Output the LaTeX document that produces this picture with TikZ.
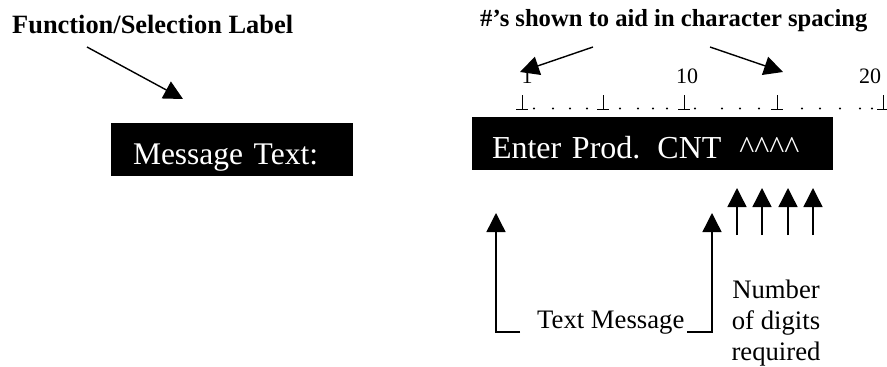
\documentclass[tikz,border=0pt]{standalone}
\usepackage{fontspec}
\setmainfont{Liberation Serif}
\usetikzlibrary{arrows.meta}

\tikzset{
  pointer/.style={line width=1.4pt, -{Triangle[length=19pt,width=19pt]}},
  screen/.style={fill=black, text=white, inner ysep=0pt, outer sep=0pt, text height=41pt, text depth=12pt, align=left, font=\fontsize{31.5}{36}\selectfont},
  heading/.style={inner sep=0pt, font=\bfseries\fontsize{25.5}{30}\selectfont},
  caption/.style={inner sep=0pt, font=\fontsize{26.7}{31}\selectfont},
  colnum/.style={inner sep=0pt, font=\fontsize{22}{26}\selectfont},
}

\begin{document}
\begin{tikzpicture}[x=1pt, y=-1pt]
\useasboundingbox (0,0) rectangle (887,367);

% titles
\node[heading, anchor=base west, font=\bfseries\fontsize{26.4}{30}\selectfont] (lbl) at (12,33) {Function/Selection Label};
\node[heading, anchor=base west, font=\bfseries\fontsize{24.6}{30}\selectfont] (hint) at (480,26) {\#'s shown to aid in character spacing};

% the two display lines
\node[screen, anchor=base west, inner xsep=22pt, text width=198pt] (msgbox) at (111,164) {Message Text:};
\node[screen, anchor=base west, inner xsep=20pt, text width=321pt, font=\fontsize{32}{36}\selectfont] (prodbox) at (472,158)
  {Enter Prod.\hspace{17pt}CNT\hspace{18pt}\textasciicircum\textasciicircum\textasciicircum\textasciicircum};

% column numbers and ruler
\node[colnum, anchor=base] (c1) at (527,83) {1};
\node[colnum, anchor=base] (c10) at (687,83) {10};
\node[colnum, anchor=base] (c20) at (870,83) {20};
\foreach \x in {522,603,684,777,883}
  \draw[line width=0.8pt] (\x,95) -- (\x,109) (\x-6,109) -- (\x+6,109);
\foreach \x in {534,553,570,587,620,638,653,667,695,722,740,759,802,820,840,860,872}
  \fill (\x,108.5) circle (1.1pt);

% pointers from the titles
\coordinate (lblfoot) at (87,47);
\coordinate (lbltip) at (183,99);
\coordinate (hintL) at (593,47);
\coordinate (hintR) at (710,47);
\coordinate (col1) at (520,72);
\coordinate (col15) at (783,72);
\draw[pointer] (lblfoot) -- (lbltip);
\draw[pointer] (hintL) -- (col1);
\draw[pointer] (hintR) -- (col15);

% text message bracket
\node[caption, anchor=base west] (txtmsg) at (537,328) {Text Message};
\coordinate (txtLfoot) at (520,332);
\coordinate (txtL) at (496,213);
\coordinate (txtRfoot) at (687,332);
\coordinate (txtR) at (712,213);
\draw[pointer] (txtLfoot) -| (txtL);
\draw[pointer] (txtRfoot) -| (txtR);

% digit arrows
\node[caption, align=center, anchor=base] (ndig) at (776,360) {Number\\of digits\\required};
\foreach \x [count=\i] in {737,762,788,813} {
  \coordinate (dfoot\i) at (\x,235);
  \coordinate (dtip\i) at (\x,188);
  \draw[pointer] (dfoot\i) -- (dtip\i);
}
\end{tikzpicture}
\end{document}
